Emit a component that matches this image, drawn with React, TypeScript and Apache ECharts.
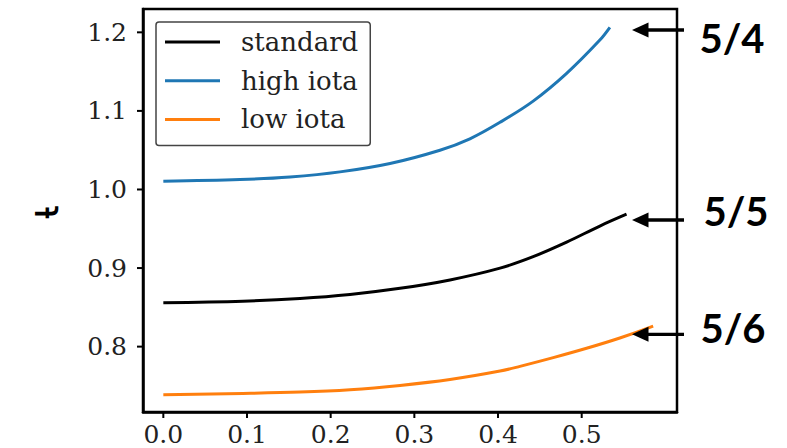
import React, { useEffect, useRef } from "react";
import * as echarts from "echarts";

// ---- data ----
const seriesNames = ["standard", "high iota", "low iota"];

const standardX = [0, 0.095, 0.1633, 0.2231, 0.2829, 0.3426, 0.4024, 0.442, 0.482, 0.5217, 0.5536];
const standardY = [0.856, 0.8579, 0.8613, 0.8664, 0.8742, 0.8849, 0.8999, 0.9145, 0.933, 0.9535, 0.9685];

const highX = [0, 0.0916, 0.1514, 0.2111, 0.2709, 0.3306, 0.3664, 0.4024, 0.442, 0.482, 0.5217, 0.5337];
const highY = [1.0106, 1.0127, 1.016, 1.0224, 1.0331, 1.05, 1.0645, 1.0855, 1.1125, 1.1478, 1.1902, 1.2064];

const lowX = [0, 0.095, 0.1633, 0.2231, 0.2829, 0.3426, 0.4024, 0.4262, 0.466, 0.5058, 0.5456, 0.5854];
const lowY = [0.7389, 0.7405, 0.7422, 0.7452, 0.7506, 0.7581, 0.7689, 0.7749, 0.786, 0.7979, 0.811, 0.8261];

const xTicks = [0, 0.1, 0.2, 0.3, 0.4, 0.5];
const yTicks = [0.8, 0.9, 1.0, 1.1, 1.2];

const annotations = ["5/4", "5/5", "5/6"];

const zip = (xs: number[], ys: number[]) => xs.map((x, i) => [x, ys[i]]);

export default function App() {
  const ref = useRef<HTMLDivElement>(null);

  useEffect(() => {
    if (!ref.current) return;
    const chart = echarts.init(ref.current, undefined, { renderer: "svg" });
    const tickFont = { fontFamily: "DejaVu Serif", fontSize: 25, color: "#222" };

    const arrowYs = [30, 220, 334.3];
    const labelPos = [
      [732, 38],
      [736, 211],
      [733, 328],
    ];

    const graphics: any[] = [];
    arrowYs.forEach((y, i) => {
      graphics.push({
        type: "line",
        shape: { x1: 684, y1: y, x2: 645, y2: y },
        style: { stroke: "#000", lineWidth: 3.3 },
        z: 100,
      });
      graphics.push({
        type: "polygon",
        shape: { points: [[632, y], [648.5, y - 7.5], [648.5, y + 7.5]] },
        style: { fill: "#000" },
        z: 100,
      });
      graphics.push({
        type: "text",
        x: labelPos[i][0],
        y: labelPos[i][1],
        style: {
          text: annotations[i],
          fontFamily: "Lato",
          fontWeight: "bold",
          fontSize: 40,
          fill: "#000",
          align: "center",
          verticalAlign: "middle",
        },
        z: 100,
      });
    });
    graphics.push({
      type: "text",
      x: 43,
      y: 212,
      rotation: Math.PI / 2,
      style: {
        text: "ι\u0335",
        fontFamily: "DejaVu Sans",
        fontSize: 42,
        fill: "#000",
        align: "center",
        verticalAlign: "middle",
      },
    });

    const lineSeries = (name: string, xs: number[], ys: number[], color: string) => ({
      name,
      type: "line",
      data: zip(xs, ys),
      showSymbol: false,
      symbol: "none",
      smooth: 0.35,
      color,
      lineStyle: { width: 3, color },
    });

    // outward tick marks drawn through the axes' own scales
    const tickSeries = (axis: "x" | "y", values: number[]) => ({
      type: "custom",
      silent: true,
      clip: false,
      z: 10,
      data: values.map((v) => [v]),
      encode: axis === "x" ? { x: 0 } : { y: 0 },
      renderItem: (params: any, api: any) => {
        const v = api.value(0);
        const cs = params.coordSys;
        if (axis === "x") {
          const px = api.coord([v, 0.8])[0];
          const y0 = cs.y + cs.height;
          return {
            type: "line",
            shape: { x1: px, y1: y0, x2: px, y2: y0 + 6 },
            style: { stroke: "#000", lineWidth: 2 },
          };
        }
        const py = api.coord([0, v])[1];
        const x0 = cs.x;
        return {
          type: "line",
          shape: { x1: x0 - 6, y1: py, x2: x0, y2: py },
          style: { stroke: "#000", lineWidth: 2 },
        };
      },
    });

    const axisLine = { show: true, onZero: false, lineStyle: { color: "#000", width: 2.5 } };

    chart.setOption({
      animation: false,
      backgroundColor: "#fff",
      grid: {
        left: 143,
        top: 9,
        width: 534,
        height: 403,
        show: true,
        borderColor: "#000",
        borderWidth: 2.5,
      },
      legend: {
        data: seriesNames,
        orient: "vertical",
        left: 156,
        top: 22,
        icon: "rect",
        itemWidth: 55,
        itemHeight: 3,
        itemGap: 8.7,
        padding: [5, 12, 11, 9],
        borderColor: "#444",
        borderWidth: 1.5,
        borderRadius: 3,
        backgroundColor: "#fff",
        textStyle: {
          fontFamily: "DejaVu Serif",
          fontSize: 26,
          lineHeight: 30,
          color: "#222",
          padding: [0, 0, 0, 16],
        },
      },
      xAxis: {
        type: "value",
        min: -0.0243,
        max: 0.6139,
        axisLine,
        splitLine: { show: false },
        axisTick: { show: false },
        axisLabel: {
          ...tickFont,
          margin: 10,
          customValues: xTicks,
          formatter: (v: number) => v.toFixed(1),
        },
      },
      yAxis: {
        type: "value",
        min: 0.7168,
        max: 1.2297,
        axisLine,
        splitLine: { show: false },
        axisTick: { show: false },
        axisLabel: {
          ...tickFont,
          margin: 16,
          customValues: yTicks,
          formatter: (v: number) => v.toFixed(1),
        },
      },
      series: [
        lineSeries(seriesNames[0], standardX, standardY, "#000000"),
        lineSeries(seriesNames[1], highX, highY, "#1f77b4"),
        lineSeries(seriesNames[2], lowX, lowY, "#ff7f0e"),
        tickSeries("x", xTicks),
        tickSeries("y", yTicks),
      ],
      graphic: graphics,
    });

    return () => chart.dispose();
  }, []);

  return (
    <div
      ref={ref}
      style={{ position: "absolute", left: 0, top: 0, width: 787, height: 448, background: "#fff" }}
    />
  );
}
